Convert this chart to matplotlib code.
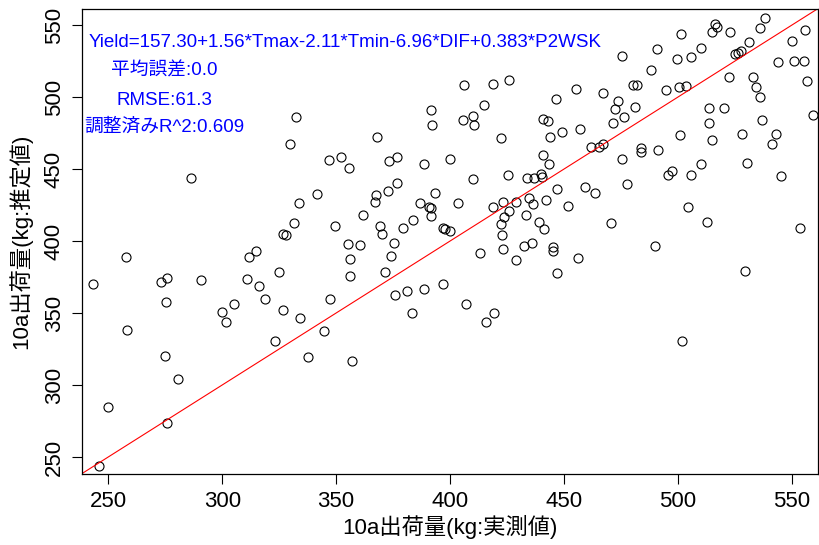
import matplotlib
matplotlib.use("Agg")
import matplotlib.pyplot as plt

plt.rcParams['font.family'] = ['Liberation Sans', 'Noto Sans CJK JP', 'DejaVu Sans']

observed = [
    286.4, 257.6, 243.2, 273.3, 275.9, 290.5, 275.2, 258.1, 311.6, 314.8,
    310.9, 316.3, 318.6, 305.1, 299.9, 301.7, 324.8, 274.7, 280.8, 250.1,
    275.8, 246.0, 323.3, 332.4, 329.9, 346.9, 352.1, 355.8, 368.0, 391.8,
    392.2, 405.7, 373.4, 376.9, 388.7, 399.8, 341.6, 333.6, 376.9, 372.8,
    367.6, 366.9, 393.4, 386.8, 403.5, 390.6, 391.6, 391.8, 361.6, 331.6,
    349.4, 369.2, 370.0, 379.3, 383.6, 396.8, 397.8, 400.0, 326.7, 328.0,
    355.0, 360.5, 375.2, 356.2, 373.9, 356.2, 371.6, 347.5, 375.7, 380.9,
    388.7, 397.0, 407.1, 383.1, 326.9, 334.0, 344.6, 337.8, 356.9, 475.2,
    490.7, 488.1, 405.9, 418.7, 425.9, 455.1, 467.0, 480.1, 482.0, 446.6,
    473.5, 472.2, 481.0, 476.1, 471.3, 415.0, 410.0, 410.6, 440.9, 442.8,
    449.3, 457.0, 444.0, 422.2, 461.6, 467.0, 465.5, 483.9, 483.6, 491.3,
    475.6, 440.9, 443.4, 425.2, 410.0, 433.8, 437.0, 439.9, 440.5, 459.3,
    463.7, 446.9, 477.5, 423.4, 428.9, 434.4, 442.2, 418.7, 436.5, 451.6,
    425.7, 423.5, 433.5, 422.4, 439.2, 441.2, 422.9, 470.6, 412.9, 423.3,
    432.2, 435.8, 445.2, 445.2, 428.8, 456.3, 447.0, 489.8, 419.3, 415.8,
    538.1, 535.8, 516.3, 516.9, 514.7, 522.8, 501.5, 555.6, 550.0, 531.0,
    510.1, 525.1, 526.3, 527.6, 499.4, 505.9, 543.8, 551.0, 555.4, 522.3,
    532.8, 534.1, 535.8, 556.4, 494.6, 500.2, 503.4, 513.4, 520.0, 559.0,
    537.0, 513.4, 500.7, 515.0, 528.2, 542.8, 541.0, 510.1, 530.4, 497.2,
    495.7, 505.8, 545.3, 504.2, 512.5, 553.6, 529.3, 501.7,
]
predicted = [
    443.9, 389.0, 370.2, 371.2, 374.4, 372.6, 357.3, 338.4, 389.0, 393.0,
    373.6, 368.6, 359.4, 356.4, 350.7, 343.5, 378.6, 320.2, 304.2, 284.8,
    273.5, 243.8, 330.4, 485.9, 467.4, 456.0, 458.1, 450.4, 472.0, 491.0,
    480.3, 484.0, 455.4, 458.1, 453.4, 456.9, 432.8, 426.4, 440.4, 434.9,
    432.1, 427.0, 433.2, 426.4, 426.4, 423.8, 423.0, 417.5, 418.0, 412.4,
    410.5, 410.5, 404.8, 409.0, 414.4, 408.7, 408.5, 406.9, 405.1, 404.0,
    398.0, 397.4, 398.3, 387.2, 389.5, 375.4, 378.2, 359.6, 362.3, 365.0,
    366.8, 369.8, 356.5, 349.9, 351.9, 346.2, 337.8, 319.3, 316.5, 528.5,
    533.3, 518.6, 508.4, 509.1, 511.6, 505.8, 502.6, 508.4, 508.4, 498.4,
    497.5, 491.4, 492.8, 486.1, 481.9, 494.2, 486.8, 480.3, 485.0, 483.5,
    475.5, 478.0, 472.4, 471.5, 465.5, 467.2, 465.3, 464.4, 462.0, 463.1,
    456.7, 459.7, 453.4, 446.0, 443.0, 443.5, 443.5, 446.5, 444.7, 437.5,
    433.2, 436.1, 439.7, 427.4, 427.4, 430.0, 428.8, 423.8, 425.5, 424.5,
    420.5, 416.8, 418.2, 411.5, 413.3, 408.3, 403.9, 412.2, 391.8, 394.6,
    396.5, 398.5, 396.0, 392.9, 386.9, 387.9, 377.9, 396.7, 350.1, 343.5,
    554.9, 548.2, 550.7, 548.5, 545.4, 545.4, 543.6, 546.6, 538.9, 538.1,
    534.2, 529.7, 530.4, 532.0, 526.7, 527.6, 524.1, 525.1, 525.1, 513.9,
    513.9, 507.0, 499.8, 511.1, 504.7, 507.2, 507.9, 492.4, 492.4, 487.7,
    484.2, 482.1, 473.6, 470.3, 474.5, 474.5, 467.4, 453.4, 454.4, 448.8,
    446.0, 446.0, 445.1, 423.5, 413.1, 408.7, 379.1, 330.4,
]
xticks = [250, 300, 350, 400, 450, 500, 550]
yticks = [250, 300, 350, 400, 450, 500, 550]
eq_text = "Yield=157.30+1.56*Tmax-2.11*Tmin-6.96*DIF+0.383*P2WSK"
stat_texts = ["平均誤差:0.0", "RMSE:61.3", "調整済みR^2:0.609"]

fig = plt.figure(figsize=(8.2, 5.45), dpi=100)
ax = fig.add_axes([82 / 820, 71 / 545, 736 / 820, 465 / 545])

ax.plot(observed, predicted, 'o', mfc='none', mec='black', ms=6.5, mew=0.8)
ax.axline((250, 250), (550, 550), color='red', lw=0.8)

ax.set_xlim(238.5, 561.4)
ax.set_ylim(238.2, 561.1)
ax.set_xticks(xticks)
ax.set_yticks(yticks)
ax.tick_params(labelsize=16, length=7.5, width=0.8, pad=5)
for lab in ax.get_yticklabels():
    lab.set_rotation(90)
    lab.set_va('center')
for sp in ax.spines.values():
    sp.set_linewidth(0.9)

ax.set_xlabel("10a出荷量(kg:実測値)", fontsize=16, labelpad=2)
ax.set_ylabel("10a出荷量(kg:推定値)", fontsize=16, labelpad=8)

ax.text(241.5, 537.5, eq_text, color='blue', fontsize=13.5, ha='left', va='center')
for t, yy in zip(stat_texts, [518.0, 497.9, 479.1]):
    ax.text(274.5, yy, t, color='blue', fontsize=13.5, ha='center', va='center')

fig.savefig("out.png", dpi=100)
